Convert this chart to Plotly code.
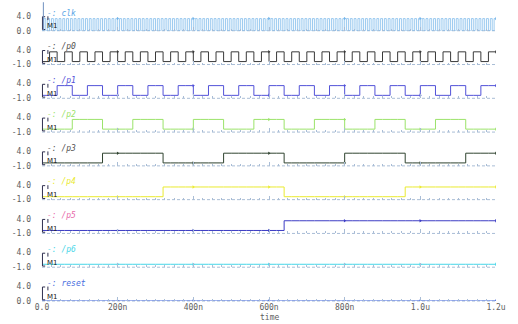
import plotly.graph_objects as go
from plotly.subplots import make_subplots

# ---------------- data ----------------
signal_names = ["clk", "/p0", "/p1", "/p2", "/p3", "/p4", "/p5", "/p6", "reset"]
# sample step (ns) of each bit string
sample_step_ns = [5, 20, 20, 20, 20, 20, 20, 20, 20]
high_level = 3.3

clk_bits = ("010101010101010101010101010101010101010101010101010101010101"
            "010101010101010101010101010101010101010101010101010101010101"
            "010101010101010101010101010101010101010101010101010101010101"
            "010101010101010101010101010101010101010101010101010101010101")
p0_bits = "010101010101010101010101010101010101010101010101010101010101"
p1_bits = "001100110011001100110011001100110011001100110011001100110011"
p2_bits = "000011110000111100001111000011110000111100001111000011110000"
p3_bits = "000000001111111100000000111111110000000011111111000000001111"
p4_bits = "000000000000000011111111111111110000000000000000111111111111"
p5_bits = "000000000000000000000000000000001111111111111111111111111111"
p6_bits = "000000000000000000000000000000000000000000000000000000000000"
reset_bits = "000000000000000000000000000000000000000000000000000000000000"
all_bits = [clk_bits, p0_bits, p1_bits, p2_bits, p3_bits, p4_bits, p5_bits, p6_bits, reset_bits]

y_low_label = [0.0, -1.0, -1.0, -1.0, -1.0, -1.0, -1.0, -1.0, 0.0]
y_tick_text_low = ["0.0", "-1.0", "-1.0", "-1.0", "-1.0", "-1.0", "-1.0", "-1.0", "0.0"]
y_top = 4.0

x_tick_vals = [0, 200, 400, 600, 800, 1000, 1200]
x_tick_text = ["0.0", "200n", "400n", "600n", "800n", "1.0u", "1.2u"]
marker_times = [200, 400, 600, 800, 1000, 1200]

trace_colors = ["#72b4ea", "#3a3a3a", "#5252d8", "#9be36a", "#304430", "#eaea30",
                "#3c3cc4", "#46d6e8", "#4a6ee0"]
label_colors = ["#5aa6e6", "#505050", "#5252d8", "#9be36a", "#505050", "#eaea30",
                "#e86aaa", "#46d6e8", "#4a6ee0"]
line_widths = [0.7, 1, 1, 1, 1, 1, 1, 1, 1]

# ---------------- figure ----------------
N = len(signal_names)
fig = make_subplots(rows=N, cols=1, shared_xaxes=True, vertical_spacing=0.02)

W, H = 518, 324
ml, mr, mt, mb = 33, 16, 14, 20
plot_h = H - mt - mb
panel_h = 15
gap = (plot_h - N * panel_h) / (N - 1)
axis_col = "#a9bdd6"

for i, (name, bits, step) in enumerate(zip(signal_names, all_bits, sample_step_ns)):
    xs = [k * step for k in range(len(bits))] + [len(bits) * step]
    ys = [high_level if b == "1" else 0.0 for b in bits]
    ys = ys + [ys[-1]]
    fig.add_trace(go.Scatter(x=xs, y=ys, mode="lines",
                             line=dict(color=trace_colors[i], width=line_widths[i], shape="hv"),
                             showlegend=False, hoverinfo="skip"), row=i + 1, col=1)
    my = [ys[int(t / step) - 1] for t in marker_times]
    fig.add_trace(go.Scatter(x=marker_times, y=my, mode="markers",
                             marker=dict(color=trace_colors[i], size=3, symbol="triangle-right",
                                         line=dict(width=0)),
                             showlegend=False, hoverinfo="skip"), row=i + 1, col=1)

    top_px = i * (panel_h + gap)
    d1 = 1 - top_px / plot_h
    d0 = 1 - (top_px + panel_h) / plot_h
    sfx = "" if i == 0 else str(i + 1)
    fig.layout["yaxis" + sfx].update(domain=[max(d0, 0), min(d1, 1)], range=[y_low_label[i], y_top],
                                     tickmode="array", tickvals=[y_top, y_low_label[i]],
                                     ticktext=["4.0", y_tick_text_low[i]], showgrid=False, zeroline=False,
                                     showline=False, ticks="", ticklabelstandoff=10,
                                     tickfont=dict(family="DejaVu Sans Mono", size=8, color="#606060"),
                                     fixedrange=True)
    fig.layout["xaxis" + sfx].update(range=[0, 1200], showgrid=False, zeroline=False, showline=False,
                                     ticks="inside", ticklen=4,
                                     tickcolor=axis_col, tickmode="array", tickvals=x_tick_vals,
                                     ticktext=x_tick_text, showticklabels=(i == N - 1),
                                     minor=dict(dtick=25, tick0=0, ticks="inside", ticklen=2, tickcolor=axis_col),
                                     tickfont=dict(family="DejaVu Sans Mono", size=8, color="#606060"),
                                     fixedrange=True)
    xr = "x" + sfx
    yr = "y" + sfx
    # dotted baseline axis
    fig.add_shape(type="line", xref=xr + " domain", yref=yr + " domain", x0=0, x1=1, y0=0, y1=0,
                  line=dict(color=axis_col, width=1, dash="3px,2px"), layer="below")
    # signal label
    fig.add_annotation(x=0.007, y=1, xref=xr + " domain", yref=yr + " domain", text="-: " + name,
                       showarrow=False, xanchor="left", yanchor="middle", yshift=3,
                       font=dict(family="DejaVu Sans Mono", size=8, color=label_colors[i], style="italic"))
    # M1 marker label
    fig.add_annotation(x=0.006, y=0.3, xref=xr + " domain", yref=yr + " domain", text="M1",
                       showarrow=False, xanchor="left", yanchor="middle",
                       font=dict(family="DejaVu Sans", size=7, color="#202020"))
    # bracket
    fig.add_shape(type="path", xref=xr + " domain", yref=yr + " domain",
                  path="M 0.007 0.95 L 0.001 0.95 L 0.001 0.08 L 0.007 0.08",
                  line=dict(color="#303050", width=1))
    fig.add_shape(type="line", xref=xr + " domain", yref=yr + " domain", x0=0.013, x1=0.013, y0=0.72, y1=0.98,
                  line=dict(color="#303050", width=1))

# vertical marker line at top
fig.add_shape(type="line", xref="x domain", yref="paper", x0=0.003, x1=0.003, y0=0.95, y1=1 + mt / plot_h,
              line=dict(color="#7090c0", width=1))

fig.add_annotation(x=(268 - ml) / (W - ml - mr), y=-(321 - (H - mb)) / plot_h, xref="paper", yref="paper",
                   text="time", showarrow=False, xanchor="center", yanchor="middle",
                   font=dict(family="DejaVu Sans Mono", size=8, color="#606060"))

fig.update_layout(width=W, height=H, margin=dict(l=ml, r=mr, t=mt, b=mb),
                  plot_bgcolor="white", paper_bgcolor="white", showlegend=False)

fig.write_html("out.html")
